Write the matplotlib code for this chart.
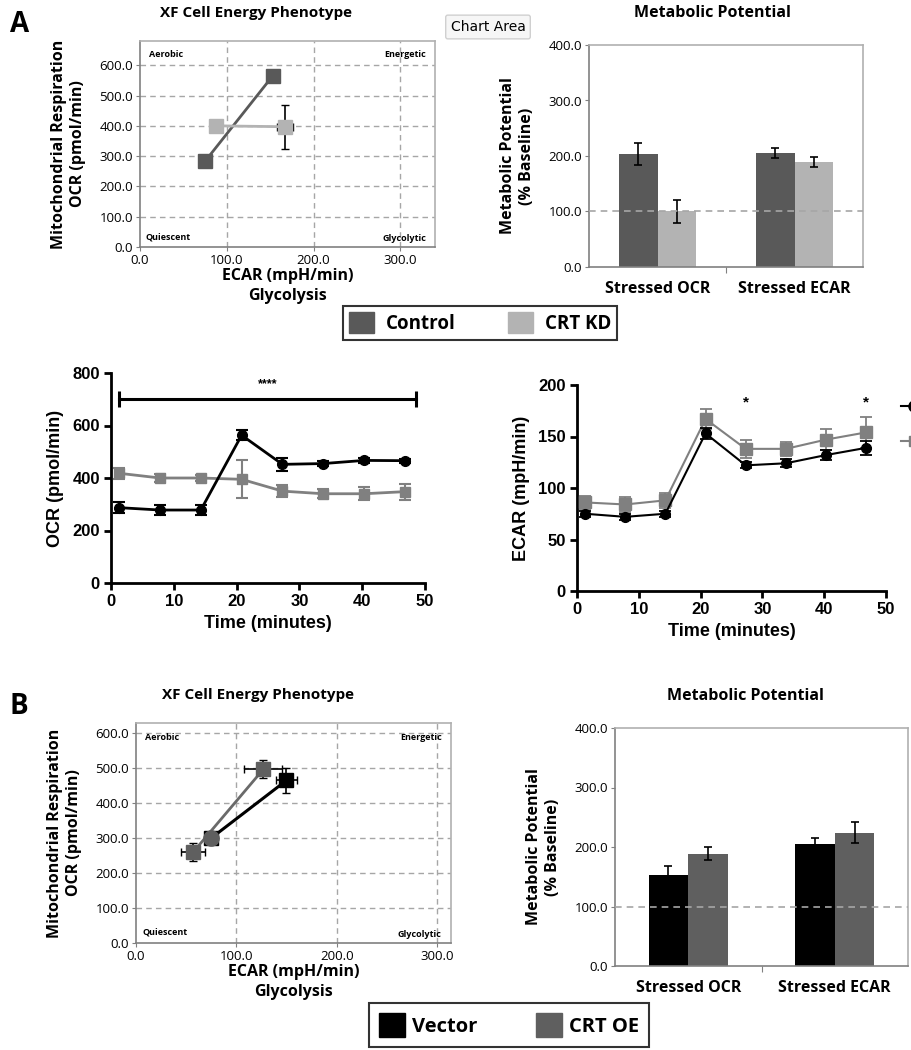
import numpy as np
import matplotlib
matplotlib.use("Agg")
import matplotlib.pyplot as plt
from matplotlib.patches import Patch
from matplotlib.lines import Line2D

# --- data ---------------------------------------------------------------
# A: energy phenotype (baseline, stressed)
ctrl_ecar = [75, 153]
ctrl_ocr = [283, 565]
ctrl_ecar_err = [3, 4]
ctrl_ocr_err = [20, 8]
kd_ecar = [88, 167]
kd_ocr = [400, 397]
kd_ecar_err = [5, 9]
kd_ocr_err = [4, 72]

# A: metabolic potential
mp_cats = ["Stressed OCR", "Stressed ECAR"]
mp_ctrl = [203, 205]
mp_ctrl_err = [20, 9]
mp_kd = [100, 190]
mp_kd_err = [20, 9]

# A: time courses
time = [1.3, 7.8, 14.3, 20.8, 27.3, 33.8, 40.3, 46.8]
ocr_ctrl = [287, 278, 278, 563, 452, 455, 467, 466]
ocr_ctrl_err = [22, 18, 18, 20, 25, 8, 8, 8]
ocr_kd = [418, 400, 400, 395, 350, 340, 340, 348]
ocr_kd_err = [20, 15, 12, 72, 22, 18, 25, 30]
ecar_ctrl = [75, 72, 75, 153, 122, 124, 132, 139]
ecar_ctrl_err = [3, 3, 3, 5, 3, 4, 5, 7]
ecar_kd = [86, 84, 88, 167, 138, 138, 147, 154]
ecar_kd_err = [6, 7, 7, 10, 9, 7, 10, 15]
sig_span = [1.3, 48.5]
sig_y = 700
ecar_star_t = [27.3, 46.8]
ecar_star_y = 183

# B: energy phenotype
vec_ecar = [75, 150]
vec_ocr = [300, 465]
vec_ecar_err = [4, 10]
vec_ocr_err = [10, 35]
oe_ecar = [57, 127]
oe_ocr = [260, 497]
oe_ecar_err = [12, 19]
oe_ocr_err = [25, 25]

# B: metabolic potential
mpb_vec = [153, 205]
mpb_vec_err = [15, 10]
mpb_oe = [189, 224]
mpb_oe_err = [11, 18]

# --- style --------------------------------------------------------------
C_CTRL = "#595959"
C_KD = "#b3b3b3"
C_KD_T = "#808080"
C_OE = "#5f5f5f"
GRID = "#a6a6a6"
XL = "Open Sans"
AR = "Liberation Sans"

fig = plt.figure(figsize=(9.11, 10.5), dpi=100)


def fig_ax(x0, y0, x1, y1):
    W, H = 911, 1050
    return fig.add_axes([x0 / W, 1 - y1 / H, (x1 - x0) / W, (y1 - y0) / H])


def phenotype(ax, xmax, ymax, title, tx):
    ax.set_xlim(0, xmax)
    ax.set_ylim(0, ymax)
    ax.set_xticks([0, 100, 200, 300])
    ax.set_yticks(np.arange(0, 601, 100))
    ax.set_xticklabels([f"{v:.1f}" for v in [0, 100, 200, 300]])
    ax.set_yticklabels([f"{v:.1f}" for v in range(0, 601, 100)])
    for v in [100, 200, 300]:
        ax.axvline(v, color=GRID, ls=(0, (4, 3)), lw=1, zorder=0)
    for v in range(100, 601, 100):
        ax.axhline(v, color=GRID, ls=(0, (4, 3)), lw=1, zorder=0)
    for s in ax.spines.values():
        s.set_color("#b0b0b0")
        s.set_linewidth(1.2)
    ax.spines["left"].set_color("#808080")
    ax.spines["bottom"].set_color("#808080")
    ax.tick_params(labelsize=9.5, length=3, color="#808080", pad=2)
    for lab in ax.get_xticklabels() + ax.get_yticklabels():
        lab.set_fontfamily(XL)
    ax.set_xlabel("ECAR (mpH/min)\nGlycolysis", fontfamily=XL, fontweight="bold",
                  fontsize=11.5, labelpad=1, linespacing=1.3)
    ax.set_ylabel("Mitochondrial Respiration\nOCR (pmol/min)", fontfamily=XL,
                  fontweight="bold", fontsize=11.5, labelpad=10, linespacing=1.2)
    ax.set_title(title, fontfamily=XL, fontweight="bold", fontsize=11, pad=17, x=tx)
    kw = dict(transform=ax.transAxes, fontfamily=XL, fontweight="bold", fontsize=6.5)
    ax.text(0.03, 0.955, "Aerobic", ha="left", va="top", **kw)
    ax.text(0.97, 0.955, "Energetic", ha="right", va="top", **kw)
    ax.text(0.02, 0.05, "Quiescent", ha="left", va="center", **kw)
    ax.text(0.97, 0.04, "Glycolytic", ha="right", va="center", **kw)


def potential(ax, a, a_err, b, b_err, ca, cb, width, tx):
    x = np.arange(len(mp_cats))
    ek = dict(ecolor="black", elinewidth=1.2, capsize=3, capthick=1.2)
    ax.bar(x - width / 2, a, width, yerr=a_err, color=ca, error_kw=ek, zorder=2)
    ax.bar(x + width / 2, b, width, yerr=b_err, color=cb, error_kw=ek, zorder=2)
    ax.axhline(100, color="#a6a6a6", ls=(0, (4, 3)), lw=1.2, zorder=3)
    ax.set_xlim(-0.5, 1.5)
    ax.set_ylim(0, 400)
    ax.set_yticks([0, 100, 200, 300, 400])
    ax.set_yticklabels([f"{v:.1f}" for v in [0, 100, 200, 300, 400]], fontfamily=XL)
    ax.set_xticks([0.5])
    ax.set_xticklabels([""])
    ax.set_xticks(x, minor=True)
    ax.set_xticklabels(mp_cats, minor=True, fontfamily=XL, fontweight="bold", fontsize=11.5)
    ax.tick_params(axis="x", which="minor", length=0, pad=10)
    ax.tick_params(axis="x", which="major", length=4, color="#808080")
    ax.tick_params(axis="y", labelsize=9.5, length=3, color="#808080", pad=2)
    for s in ax.spines.values():
        s.set_color("#b0b0b0")
        s.set_linewidth(1.2)
    ax.spines["left"].set_color("#808080")
    ax.spines["bottom"].set_color("#808080")
    ax.set_ylabel("Metabolic Potential\n(% Baseline)", fontfamily=XL, fontweight="bold",
                  fontsize=11.5, labelpad=10, linespacing=1.2)
    ax.set_title("Metabolic Potential", fontfamily=XL, fontweight="bold", fontsize=11.5,
                 pad=20, x=tx)


def prism(ax, ylim, yticks, ylabel):
    ax.set_xlim(0, 50)
    ax.set_ylim(*ylim)
    ax.set_xticks([0, 10, 20, 30, 40, 50])
    ax.set_yticks(yticks)
    ax.spines["top"].set_visible(False)
    ax.spines["right"].set_visible(False)
    for s in ["left", "bottom"]:
        ax.spines[s].set_linewidth(2)
    ax.tick_params(width=2, length=5, labelsize=12, pad=3)
    for lab in ax.get_xticklabels() + ax.get_yticklabels():
        lab.set_fontfamily(AR)
        lab.set_fontweight("bold")
    ax.set_xlabel("Time (minutes)", fontfamily=AR, fontweight="bold", fontsize=13, labelpad=4)
    ax.set_ylabel(ylabel, fontfamily=AR, fontweight="bold", fontsize=13, labelpad=6)


# --- A1 energy phenotype ----------------------------------------------
ax = fig_ax(140, 41, 435, 247)
phenotype(ax, 340, 680, "XF Cell Energy Phenotype", 0.393)
ax.errorbar(ctrl_ecar, ctrl_ocr, xerr=ctrl_ecar_err, yerr=ctrl_ocr_err, color=C_CTRL,
            lw=2, marker="s", ms=10, ecolor="black", elinewidth=1.2, capsize=3, zorder=3)
ax.errorbar(kd_ecar, kd_ocr, xerr=kd_ecar_err, yerr=kd_ocr_err, color=C_KD,
            lw=2, marker="s", ms=10, ecolor="black", elinewidth=1.2, capsize=3, zorder=3)

# --- A2 metabolic potential ------------------------------------------
ax = fig_ax(589, 45, 863, 267)
potential(ax, mp_ctrl, mp_ctrl_err, mp_kd, mp_kd_err, C_CTRL, C_KD, 0.28, 0.449)

fig.text(488 / 911, 1 - 27 / 1050, "Chart Area", fontsize=10, fontfamily="DejaVu Sans",
         ha="center", va="center",
         bbox=dict(boxstyle="round,pad=0.35,rounding_size=0.15", fc="#f6f6f6", ec="#d0d0d0"))

# panel letters
fig.text(10 / 911, 1 - 25 / 1050, "A", fontsize=20, fontweight="bold", fontfamily=XL, va="center")
fig.text(10 / 911, 1 - 707 / 1050, "B", fontsize=20, fontweight="bold", fontfamily=XL, va="center")

# legend A
fig.legend(handles=[Patch(color=C_CTRL), Patch(color=C_KD)], labels=["Control", "CRT KD"],
           loc="center", bbox_to_anchor=(480 / 911, 1 - 323 / 1050), ncol=2,
           prop=dict(family=XL, weight="bold", size=13.5), frameon=True, fancybox=False,
           edgecolor="black", handlelength=1.35, handleheight=1.35, columnspacing=2.8,
           handletextpad=0.6, borderpad=0.3).get_frame().set_linewidth(1.5)

# --- A3 OCR time course -------------------------------------------
ax = fig_ax(111, 373, 425, 583)
prism(ax, (0, 800), [0, 200, 400, 600, 800], "OCR (pmol/min)")
ax.errorbar(time, ocr_kd, yerr=ocr_kd_err, color=C_KD_T, marker="s", ms=7, lw=2,
            elinewidth=1.5, capsize=4, capthick=1.5, zorder=3)
ax.errorbar(time, ocr_ctrl, yerr=ocr_ctrl_err, color="black", marker="o", ms=7, lw=2,
            elinewidth=1.5, capsize=4, capthick=1.5, zorder=4)
ax.plot(sig_span, [sig_y, sig_y], color="black", lw=2.2, zorder=5)
ax.plot(sig_span, [sig_y, sig_y], ls="none", marker="|", ms=12, mew=2.2, color="black", zorder=5)
ax.text(np.mean(sig_span), sig_y + 35, "****", ha="center", va="bottom", fontsize=9,
        fontweight="bold", fontfamily=AR)

# --- A4 ECAR time course ------------------------------------------
ax = fig_ax(577, 385, 886, 591)
prism(ax, (0, 200), [0, 50, 100, 150, 200], "ECAR (mpH/min)")
ax.errorbar(time, ecar_kd, yerr=ecar_kd_err, color=C_KD_T, marker="s", ms=8, lw=1.5,
            elinewidth=1.3, capsize=4, capthick=1.3, zorder=3)
ax.errorbar(time, ecar_ctrl, yerr=ecar_ctrl_err, color="black", marker="o", ms=7, lw=1.5,
            elinewidth=1.3, capsize=4, capthick=1.3, zorder=4)
for t in ecar_star_t:
    ax.text(t, ecar_star_y, "*", ha="center", va="center", fontsize=11, fontweight="bold",
            fontfamily=AR)
# legend handles cut off at the right edge, labels out of frame
ax.legend(handles=[Line2D([], [], color="black", marker="o", ms=8, lw=1.5),
                   Line2D([], [], color=C_KD_T, marker="s", ms=7, lw=1.5)],
          labels=["", ""], loc="upper left", bbox_to_anchor=(1.0, 1.0),
          frameon=False, handlelength=1.6, labelspacing=1.2, borderaxespad=0.5,
          prop=dict(family=AR, weight="bold", size=12))

# --- B1 energy phenotype ------------------------------------------
ax = fig_ax(136, 723, 451, 943)
phenotype(ax, 314, 629, "XF Cell Energy Phenotype", 0.387)
ax.errorbar(vec_ecar, vec_ocr, xerr=vec_ecar_err, yerr=vec_ocr_err, color="black",
            lw=2.2, marker="s", ms=10, ecolor="black", elinewidth=1.2, capsize=3, zorder=3)
ax.errorbar(oe_ecar, oe_ocr, xerr=oe_ecar_err, yerr=oe_ocr_err, color="#6a6a6a",
            lw=2, marker="s", ms=10, mfc=C_OE, mec=C_OE, ecolor="black", elinewidth=1.2,
            capsize=3, zorder=3)
ax.plot(vec_ecar[:1], vec_ocr[:1], ls="none", marker="o", ms=11, color=C_OE, zorder=4)

# --- B2 metabolic potential ---------------------------------------
ax = fig_ax(615, 728, 908, 966)
potential(ax, mpb_vec, mpb_vec_err, mpb_oe, mpb_oe_err, "black", C_OE, 0.27, 0.444)

fig.legend(handles=[Patch(color="black"), Patch(color=C_OE)], labels=["Vector", "CRT OE"],
           loc="center", bbox_to_anchor=(509 / 911, 1 - 1025 / 1050), ncol=2,
           prop=dict(family=XL, weight="bold", size=14.5), frameon=True, fancybox=False,
           edgecolor="black", handlelength=1.3, handleheight=1.4, columnspacing=2.9,
           handletextpad=0.35, borderpad=0.5).get_frame().set_linewidth(1.5)

fig.savefig("out.png", dpi=100)
